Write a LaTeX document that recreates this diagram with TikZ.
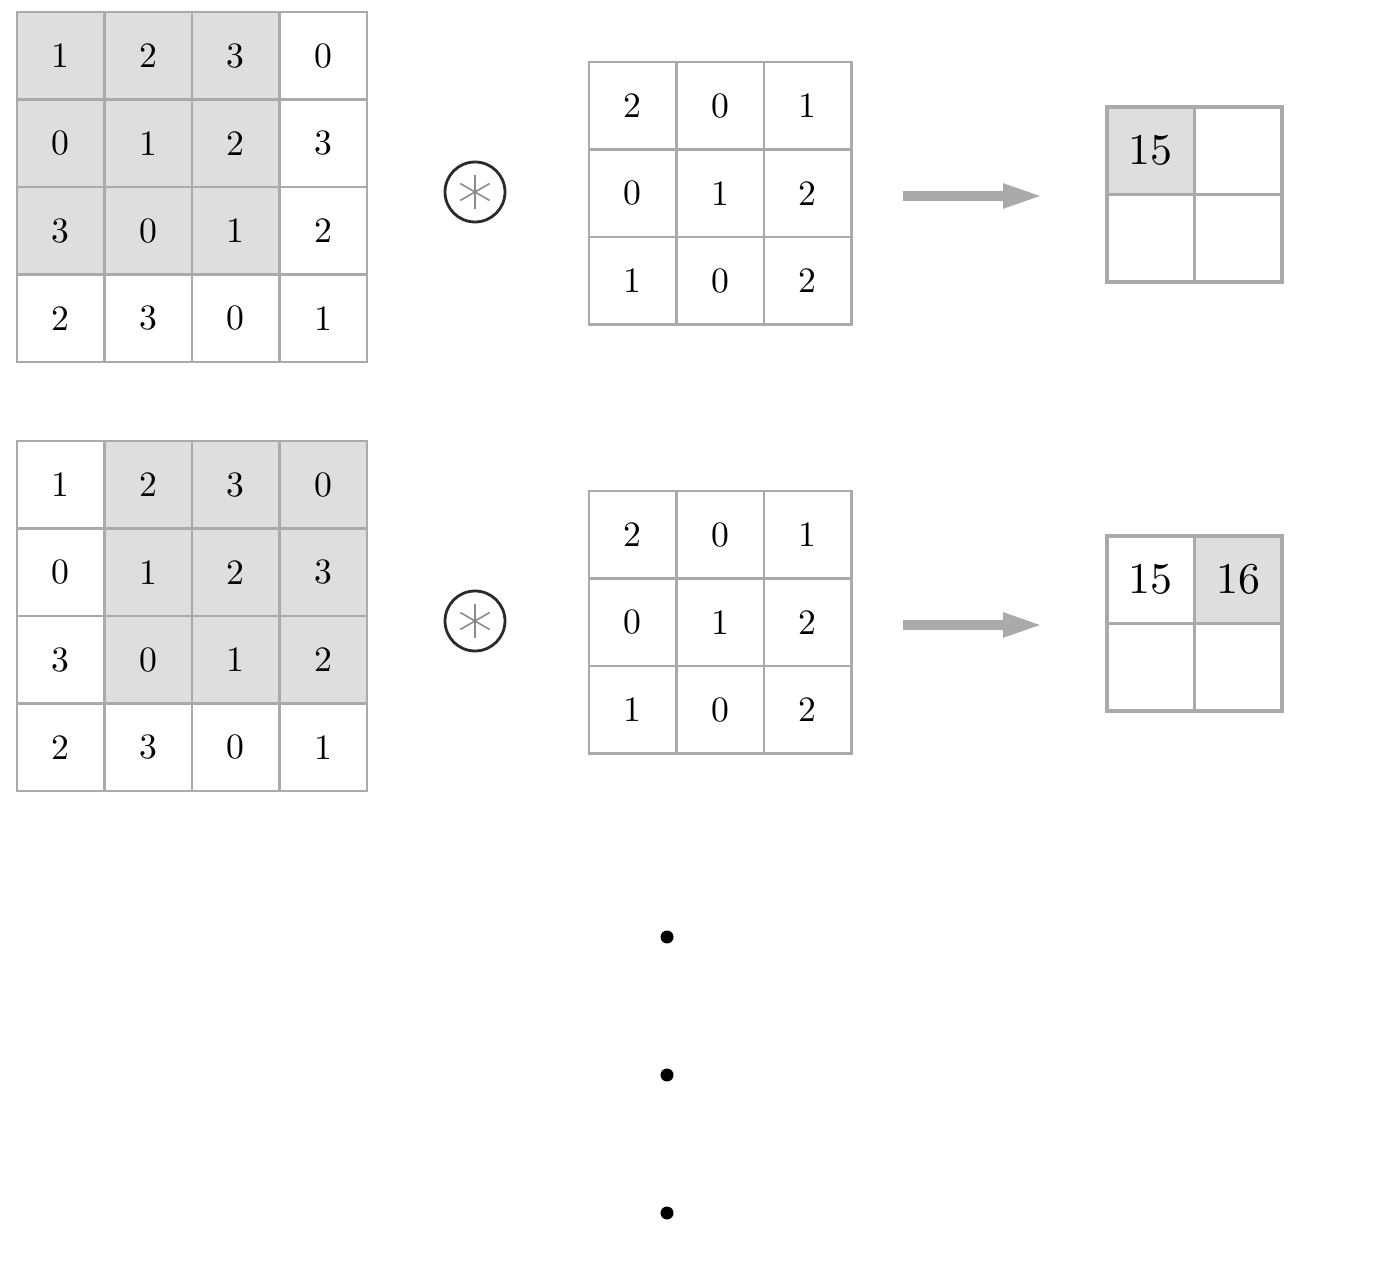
\documentclass[tikz,border=0pt]{standalone}
\usetikzlibrary{arrows.meta,backgrounds}
\definecolor{gridgray}{HTML}{AAAAAA}
\definecolor{cellgray}{HTML}{DEDEDE}
\definecolor{stargray}{HTML}{8A8A8A}
\definecolor{ringblack}{HTML}{2B2B2B}
\newcommand{\cellnum}[1]{\scalebox{2.03}{#1}}
\newcommand{\outnum}[1]{\scalebox{2.5}{#1}}
\tikzset{
  cell/.style={draw=gridgray, line width=1.6pt, minimum size=1.75cm, inner sep=0pt, font=\fontsize{10}{12}\selectfont},
  kcell/.style={cell, line width=1.2pt},
  ocell/.style={cell, line width=1.9pt},
  conv/.style={circle, draw=ringblack, line width=1.6pt, minimum size=1.2cm, inner sep=0pt},
  flow/.style={draw=gridgray, line width=0.2cm, -{Triangle[length=0.82cm,width=0.44cm]}},
}
\begin{document}
\begin{tikzpicture}[x=0.02cm,y=-0.02cm]
\useasboundingbox (0,0) rectangle (1390,1266);
% two steps of the sliding window, one per row
\foreach \r/\dy/\s/\ta/\tb in {1/0/1/15/{}, 2/429/2/15/16} {
  % input
  \foreach \row [count=\i] in {{1,2,3,0},{0,1,2,3},{3,0,1,2},{2,3,0,1}} {
    \foreach \v [count=\j] in \row {
      \node[cell] (in\r-\i-\j) at ({17+87.5*(\j-0.5)},{12+\dy+87.5*(\i-0.5)}) {\cellnum{\v}};
    }
  }
  \pgfmathtruncatemacro\e{\s+2}
  \begin{scope}[on background layer]
    \fill[cellgray] (in\r-1-\s.north west) rectangle (in\r-3-\e.south east);
  \end{scope}
  % operator
  \node[conv] (op\r) at (475,192+\dy) {};
  \foreach \a in {90,30,150}
    \draw[stargray, line width=0.9pt] (op\r.center) ++(\a:17) -- ++(\a+180:34);
  % kernel
  \foreach \row [count=\i] in {{2,0,1},{0,1,2},{1,0,2}} {
    \foreach \v [count=\j] in \row {
      \node[kcell] (k\r-\i-\j) at ({589+87.5*(\j-0.5)},{62+\dy+87.5*(\i-0.5)}) {\cellnum{\v}};
    }
  }
  % arrow
  \coordinate (a\r-s) at (903,196+\dy);
  \coordinate (a\r-e) at (1044,196+\dy);
  \draw[flow] (a\r-s) -- (a\r-e);
  % output
  \node[ocell] (out\r-1-1) at (1150.75,150.75+\dy) {\outnum{\ta}};
  \node[ocell] (out\r-1-2) at (1238.25,150.75+\dy) {\outnum{\tb}};
  \node[ocell] (out\r-2-1) at (1150.75,238.25+\dy) {};
  \node[ocell] (out\r-2-2) at (1238.25,238.25+\dy) {};
  \begin{scope}[on background layer]
    \fill[cellgray] (out\r-1-\s.north west) rectangle (out\r-1-\s.south east);
  \end{scope}
}
% more steps follow
\foreach \y in {937,1075,1213}
  \fill (667,\y) circle[radius=0.13cm];
\end{tikzpicture}
\end{document}
